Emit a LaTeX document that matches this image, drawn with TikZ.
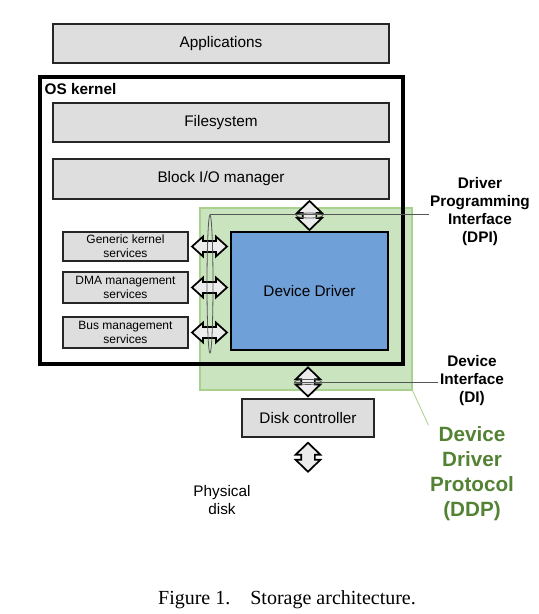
\documentclass[tikz,border=0pt]{standalone}
\usepackage{fontspec}
\setmainfont{Liberation Sans}
\newfontfamily\captionfont{Liberation Serif}
\definecolor{boxgray}{RGB}{222, 222, 222}
\definecolor{ddpfill}{RGB}{201, 228, 190}
\definecolor{ddpedge}{RGB}{169, 209, 142}
\definecolor{ddpgreen}{RGB}{84, 130, 53}
\definecolor{drvblue}{RGB}{112, 160, 216}
\definecolor{cutgray}{RGB}{85, 85, 85}
\usetikzlibrary{shapes.geometric, shapes.arrows, positioning, calc}
\tikzset{
  layer/.style={draw=black!85, fill=boxgray, line width=1.1pt, minimum width=252pt, minimum height=29.25pt, font=\fontsize{11.5}{13.5}\selectfont},
  svc/.style={draw=black!85, fill=boxgray, line width=1.1pt, minimum width=93.75pt, align=center, inner sep=1pt, font=\fontsize{9}{10.5}\selectfont},
  biarrow/.style={double arrow, draw=black, fill=gray!15, line width=1.3pt, inner xsep=0pt, inner ysep=4.5pt, double arrow head extend=4.1pt, double arrow tip angle=92, minimum height=21.75pt},
  sidearrow/.style={biarrow, inner ysep=3.4pt, double arrow head extend=3.4pt, double arrow tip angle=84, minimum height=26.25pt},
  iface/.style={align=center, inner xsep=1pt, font=\fontsize{11.5}{13.5}\selectfont\bfseries},
  cut/.style={ellipse, draw=cutgray, line width=0.6pt, inner sep=0pt},
}

\begin{document}
\begin{tikzpicture}[x=0.75pt, y=-0.75pt]
  \useasboundingbox (0,0) rectangle (539,614);

  % DDP region, behind the kernel frame
  \node[draw=ddpedge, fill=ddpfill, line width=0.8pt, minimum width=159pt, minimum height=136.5pt] (ddp) at (306,299) {};

  % Layers
  \node[layer] (apps) at (221,43.5) {Applications};
  \node[draw=black, line width=2.3pt, minimum width=272.25pt, minimum height=215.25pt] (kernel) at (221.5,220.5) {};
  \node[anchor=north west, inner sep=0pt, font=\fontsize{11.5}{13.5}\selectfont\bfseries] (kernelname) at ($(kernel.north west)+(6,8)$) {OS kernel};
  \node[layer] (fs) at (221,122.5) {Filesystem};
  \node[layer, minimum height=30pt] (blockio) at (221,179) {Block I/O manager};

  \node[svc, minimum height=21.75pt] (generic) at (125.5,246.5) {Generic kernel\\services};
  \node[svc, minimum height=23.25pt] (dma) at (125.5,287.5) {DMA management\\services};
  \node[svc, minimum height=23.25pt] (bus) at (125.5,332.5) {Bus management\\services};

  \node[draw=black, fill=drvblue, line width=1.1pt, minimum width=117.75pt, minimum height=88.5pt, font=\fontsize{11.5}{13.5}\selectfont] (driver) at (309.5,291) {Device Driver};

  \node[layer, minimum width=99pt, minimum height=28.5pt] (disk) at (308,418) {Disk controller};
  \node[align=center, font=\fontsize{11.5}{14}\selectfont] (physdisk) at (222,500) {Physical\\disk};

  % Block arrows
  \node[biarrow, rotate=90] (dpiarrow) at ($(blockio.south -| driver)!0.5!(driver.north)$) {};
  \node[biarrow, rotate=90] (diarrow) at ($(kernel.south -| disk)!0.5!(disk.north)$) {};
  \node[biarrow, rotate=90] (diskarrow) at ($(disk.south)+(0,19.5)$) {};
  \foreach \s in {generic, dma, bus}
    \node[sidearrow] (\s arrow) at ($(\s.east)!0.5!(\s.east -| driver.west)$) {};

  % Interface cuts
  \node[cut, minimum width=4.5pt, minimum height=103.5pt] (dpiside) at (210,284) {};
  \node[cut, minimum width=20pt, minimum height=3.75pt] (dpicut) at (dpiarrow) {};
  \node[cut, minimum width=20pt, minimum height=3.75pt] (dicut) at (diarrow) {};

  % Labels
  \node[iface] (dpilabel) at (480,212) {Driver\\Programming\\Interface\\(DPI)};
  \node[iface] (dilabel) at (472,381) {Device\\Interface\\(DI)};
  \node[align=center, inner sep=1pt, text=ddpgreen, font=\fontsize{15.5}{18.75}\selectfont\bfseries] (ddplabel) at (472,474) {Device\\Driver\\Protocol\\(DDP)};

  \draw[cutgray, line width=0.6pt] (dpiside.north) -- (dpiside.north -| dpilabel.west);
  \draw[cutgray, line width=0.6pt] (dicut.west) -- (dicut.west -| dilabel.west);
  \draw[ddpedge, line width=0.6pt] (ddp.south east) -- (ddplabel.north west);

  \node[font=\captionfont\fontsize{15}{18}\selectfont] (caption) at (287,600) {Figure 1.\quad Storage architecture.};
\end{tikzpicture}
\end{document}
